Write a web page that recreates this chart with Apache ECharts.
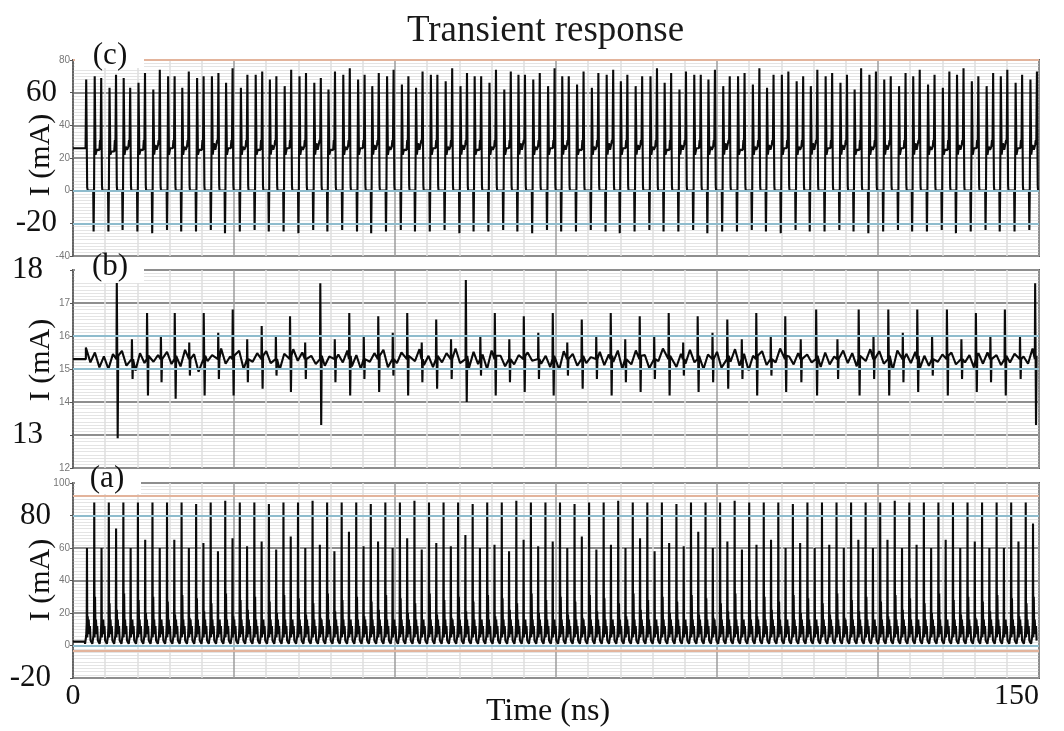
<!DOCTYPE html>
<html>
<head>
<meta charset="utf-8">
<title>Transient response</title>
<script src="https://cdn.jsdelivr.net/npm/echarts@6/dist/echarts.min.js"></script>
<style>
  html, body { margin: 0; padding: 0; background: #fff; }
  #chart { width: 1064px; height: 731px; }
</style>
</head>
<body>
<div id="chart"></div>
<script>
// ---------- panel (c) : switching current, mA ----------
var cLeadT = [0, 1.95, 2.05, 2.2, 2.3];
var cLeadV = [26, 26, 68, 2, 0];
// time of each negative spike (ns)
var cNegT = [3.2, 5.5, 7.7, 10.0, 12.3, 14.6, 16.8, 19.1, 21.4, 23.6,
  25.9, 28.2, 30.4, 32.7, 35.0, 37.3, 39.5, 41.8, 44.1, 46.3,
  48.6, 50.9, 53.1, 55.4, 57.7, 60.0, 62.2, 64.5, 66.8, 69.0,
  71.3, 73.6, 75.8, 78.1, 80.4, 82.7, 84.9, 87.2, 89.5, 91.7,
  94.0, 96.3, 98.5, 100.8, 103.1, 105.4, 107.6, 109.9, 112.2, 114.4,
  116.7, 119.0, 121.2, 123.5, 125.8, 128.1, 130.3, 132.6, 134.9, 137.1,
  139.4, 141.7, 143.9, 146.2, 148.5];
var cNeg = [-25, -25, -24, -25, -26, -24, -25, -25, -24, -26,
  -25, -24, -25, -25, -26, -24, -25, -24, -25, -26,
  -25, -24, -25, -25, -24, -26, -25, -25, -24, -25,
  -26, -24, -25, -25, -24, -25, -26, -25, -24, -25,
  -25, -24, -26, -25, -25, -24, -25, -26, -24, -25,
  -25, -24, -25, -26, -25, -24, -25, -25, -24, -26,
  -25, -24, -25, -25, -24];
var cA = [70, 63, 69, 66, 62, 70, 63, 69, 70, 66,
  63, 71, 68, 64, 70, 66, 62, 71, 68, 64,
  70, 65, 63, 71, 67, 64, 70, 66, 62, 71,
  68, 64, 70, 65, 63, 71, 67, 64, 70, 66,
  62, 71, 68, 64, 70, 65, 63, 71, 67, 64,
  70, 66, 62, 71, 68, 64, 70, 65, 63, 71,
  67, 64, 70, 66, 68];
var cB = [69, 71, 63, 72, 74, 70, 73, 70, 72, 75,
  71, 73, 70, 74, 72, 69, 73, 75, 71, 72,
  74, 70, 73, 71, 75, 72, 70, 74, 73, 71,
  72, 75, 70, 73, 72, 74, 71, 70, 75, 72,
  73, 71, 74, 70, 72, 75, 71, 73, 70, 74,
  72, 71, 75, 73, 70, 72, 74, 71, 73, 75,
  70, 72, 74, 71, 73];
var cPlat = [25, 24, 27, 25, 28, 26, 27, 25, 29, 26,
  27, 25, 28, 26, 27, 29, 25, 27, 26, 28,
  27, 25, 29, 26, 27, 28, 25, 27, 26, 29,
  27, 26, 28, 25, 27, 29, 26, 28, 27, 25,
  28, 26, 27, 29, 25, 27, 28, 26, 27, 29,
  26, 28, 25, 27, 28, 26, 29, 27, 25, 28,
  26, 27, 29, 26, 28];

// ---------- panel (b) : supply current, mA ----------
var bBase = 15.3;
var bBigT = [6.8, 11.5, 15.8, 20.3, 24.8, 29.3, 33.7, 38.4, 42.9, 47.4,
  51.9, 56.4, 61.0, 65.5, 70.0, 74.5, 79.0, 83.5, 88.0, 92.5,
  97.0, 101.6, 106.1, 110.6, 115.4, 122.0, 126.6, 131.1, 135.7, 140.2,
  144.7, 149.4];
var bBigUp = [17.7, 16.7, 16.7, 16.7, 16.8, 16.3, 16.6, 17.6, 16.7, 16.6,
  16.7, 16.5, 17.7, 16.7, 16.6, 16.7, 16.5, 16.7, 16.6, 16.7,
  16.6, 16.5, 16.7, 16.6, 16.8, 16.8, 16.8, 16.8, 16.8, 16.7,
  16.8, 17.6];
var bBigDown = [12.9, 14.2, 14.1, 14.2, 14.2, 14.4, 14.3, 13.3, 14.2, 14.3,
  14.2, 14.4, 14.0, 14.2, 14.3, 14.2, 14.4, 14.2, 14.3, 14.2,
  14.3, 14.4, 14.2, 14.3, 14.2, 14.2, 14.2, 14.3, 14.2, 14.3,
  14.2, 13.3];
var bMidUp = [15.9, 16.0, 15.8, 16.1, 15.9, 16.0, 15.8, 15.9, 16.0, 16.1,
  15.8, 15.9, 16.0, 15.9, 16.1, 15.8, 16.0, 15.9, 16.0, 15.8,
  16.1, 15.9, 16.0, 15.9, 15.9, 16.0, 16.1, 16.0, 15.9, 16.0, 16.0];
var bMidDown = [14.7, 14.6, 14.8, 14.7, 14.6, 14.8, 14.7, 14.6, 14.7, 14.8,
  14.6, 14.7, 14.8, 14.6, 14.7, 14.8, 14.7, 14.6, 14.7, 14.8,
  14.6, 14.7, 14.8, 14.6, 14.7, 14.7, 14.6, 14.8, 14.7, 14.6, 14.7];
// ripple on the supply current, hundredths of mA, one sample per 0.7 ns from 2 ns
var bNoiseStart = 2.0, bNoiseStep = 0.7;
var bNoise = [35, -10, 20, -25, 8, -30, 15, -5, 25, -20, 10, -35, 18, -12, 30, -8, 12, -28, 22, -15,
  5, -22, 28, -10, 15, -38, 20, -6, 12, -25, 32, -14, 8, -20, 25, -30, 10, -8, 18, -26,
  24, -12, 6, -32, 16, -18, 30, -5, 20, -24, 10, -15, 35, -20, 8, -28, 14, -10, 26, -22,
  12, -30, 22, -8, 18, -16, 28, -25, 6, -12, 20, -34, 15, -6, 30, -18, 10, -24, 24, -10,
  18, -20, 32, -12, 8, -26, 22, -15, 14, -30, 26, -8, 10, -22, 34, -16, 12, -28, 20, -5,
  28, -14, 10, -24, 18, -32, 24, -10, 16, -20, 30, -12, 6, -26, 22, -18, 14, -8, 26, -30,
  8, -16, 26, -22, 12, -28, 20, -6, 32, -18, 10, -24, 16, -14, 28, -10, 22, -30, 14, -20,
  22, -26, 12, -8, 30, -20, 16, -34, 10, -14, 24, -18, 20, -10, 32, -24, 8, -16, 18, -28,
  14, -10, 28, -24, 20, -16, 8, -30, 26, -12, 18, -22, 12, -6, 30, -20, 24, -14, 10, -32,
  26, -18, 16, -12, 22, -28, 10, -20, 30, -8, 14, -24, 20, -16, 28, -10, 12, -26, 18, -14,
  20, -30, 12, -18, 26, -10, 16, -24, 8, -14, 32, -22];

// ---------- panel (a) : output current, mA ----------
var aLeadT = [0, 1.85];
var aLeadV = [2.4, 2.4];
var aT = [2.17, 3.30, 4.43, 5.56, 6.69, 7.82, 8.95, 10.08, 11.21, 12.34,
  13.47, 14.60, 15.73, 16.86, 17.99, 19.12, 20.25, 21.38, 22.51, 23.64,
  24.77, 25.90, 27.03, 28.16, 29.29, 30.42, 31.55, 32.68, 33.81, 34.94,
  36.07, 37.20, 38.33, 39.46, 40.59, 41.72, 42.85, 43.98, 45.11, 46.24,
  47.37, 48.50, 49.63, 50.76, 51.89, 53.02, 54.15, 55.28, 56.41, 57.54,
  58.67, 59.80, 60.93, 62.06, 63.19, 64.32, 65.45, 66.58, 67.71, 68.84,
  69.97, 71.10, 72.23, 73.36, 74.49, 75.62, 76.75, 77.88, 79.01, 80.14,
  81.27, 82.40, 83.53, 84.66, 85.79, 86.92, 88.05, 89.18, 90.31, 91.44,
  92.57, 93.70, 94.83, 95.96, 97.09, 98.22, 99.35, 100.48, 101.61, 102.74,
  103.87, 105.00, 106.13, 107.26, 108.39, 109.52, 110.65, 111.78, 112.91, 114.04,
  115.17, 116.30, 117.43, 118.56, 119.69, 120.82, 121.95, 123.08, 124.21, 125.34,
  126.47, 127.60, 128.73, 129.86, 130.99, 132.12, 133.25, 134.38, 135.51, 136.64,
  137.77, 138.90, 140.03, 141.16, 142.29, 143.42, 144.55, 145.68, 146.81, 147.94,
  149.07];
var aPeak = [60, 88, 60, 88, 72, 88, 60, 88, 65, 88,
  60, 88, 65, 88, 60, 87, 63, 88, 58, 89,
  66, 88, 61, 88, 64, 87, 59, 88, 67, 88,
  60, 89, 62, 88, 58, 88, 70, 88, 61, 87,
  64, 88, 60, 88, 66, 89, 59, 88, 63, 88,
  61, 88, 68, 87, 60, 88, 62, 88, 58, 89,
  65, 88, 61, 88, 64, 88, 60, 87, 67, 88,
  59, 88, 62, 89, 60, 88, 66, 88, 58, 88,
  63, 87, 61, 88, 70, 88, 60, 88, 64, 89,
  59, 88, 62, 88, 65, 88, 60, 87, 63, 88,
  60, 88, 62, 88, 60, 88, 65, 88, 60, 88,
  65, 89, 60, 88, 62, 88, 60, 88, 65, 88,
  60, 88, 64, 88, 60, 88, 60, 88, 64, 88,
  75];
var aHump = [18, 30, 16, 26, 22, 32, 14, 28, 20, 30,
  15, 27, 19, 31, 17, 29, 21, 26, 14, 32,
  18, 28, 22, 30, 16, 27, 20, 31, 15, 29,
  19, 26, 17, 32, 21, 28, 14, 30, 18, 27,
  22, 31, 16, 29, 20, 26, 15, 32, 19, 28,
  17, 30, 21, 27, 14, 31, 18, 29, 22, 26,
  16, 32, 20, 28, 15, 30, 19, 27, 17, 31,
  21, 29, 14, 26, 18, 32, 22, 28, 16, 30,
  20, 27, 15, 31, 19, 29, 17, 26, 21, 32,
  14, 28, 18, 30, 22, 27, 16, 31, 20, 29,
  15, 26, 19, 32, 17, 28, 21, 30, 14, 27,
  18, 31, 22, 29, 16, 26, 20, 32, 15, 28,
  19, 30, 17, 27, 21, 31, 14, 29, 18, 26,
  30];

// ---------- build traces ----------
function traceC() {
  var d = [], i, n;
  for (i = 0; i < cLeadT.length; i++) d.push([cLeadT[i], cLeadV[i]]);
  n = Math.min(cNegT.length, cNeg.length, cA.length, cB.length, cPlat.length);
  for (i = 0; i < n; i++) {
    var t = cNegT[i], p = cPlat[i];
    d.push([t - 0.06, 0], [t, cNeg[i]], [t + 0.07, 0], [t + 0.17, cA[i]],
      [t + 0.3, 22], [t + 0.5, p], [t + 0.7, 25], [t + 0.9, p], [t + 1.0, 31],
      [t + 1.08, p], [t + 1.18, cB[i]], [t + 1.3, 3], [t + 1.36, 0]);
  }
  return d;
}

function traceB() {
  var d = [[0, bBase], [bNoiseStart, bBase]], spikes = [], i;
  for (i = 0; i < bBigT.length; i++) {
    var t = bBigT[i];
    spikes.push(t);
    d.push([t - 0.05, bBase], [t, bBigUp[i]], [t + 0.08, 15.2], [t + 0.14, bBigDown[i]], [t + 0.22, 15.4]);
    if (i < bBigT.length - 1 && i < bMidUp.length) {
      var m = (t + bBigT[i + 1]) / 2;
      spikes.push(m);
      d.push([m - 0.04, bBase], [m, bMidUp[i]], [m + 0.1, bMidDown[i]], [m + 0.18, bBase]);
    }
  }
  for (i = 0; i < bNoise.length; i++) {
    var tn = bNoiseStart + i * bNoiseStep;
    var near = spikes.some(function (s) { return Math.abs(s - tn) < 0.3; });
    if (!near && tn <= 150) d.push([tn, bBase + bNoise[i] / 100]);
  }
  d.sort(function (p, q) { return p[0] - q[0]; });
  return d;
}

function traceA() {
  var d = [], i, n;
  for (i = 0; i < aLeadT.length; i++) d.push([aLeadT[i], aLeadV[i]]);
  n = Math.min(aT.length, aPeak.length, aHump.length);
  for (i = 0; i < n; i++) {
    var t = aT[i];
    d.push([t - 0.3, 1], [t - 0.12, 6], [t - 0.04, 14], [t, aPeak[i]], [t + 0.05, 5],
      [t + 0.12, aHump[i]], [t + 0.19, 9], [t + 0.27, 16], [t + 0.36, 7],
      [t + 0.46, 12], [t + 0.56, 3]);
  }
  return d.filter(function (p) { return p[0] <= 150; });
}

// ---------- layout ----------
var serif = 'Liberation Serif';
var grids = [
  { left: 73, right: 25, top: 60, height: 196 },   // (c)
  { left: 73, right: 25, top: 270, height: 198 },  // (b)
  { left: 73, right: 25, top: 483, height: 195 }   // (a)
];
var yRanges = [
  { min: -40, max: 80, interval: 20, big: [60, -20] },
  { min: 12, max: 18, interval: 1, big: [18, 13], bigMargin: 30 },
  { min: -20, max: 100, interval: 20, big: [80, -20], bigMargin: 22 }
];

var xAxes = grids.map(function (g, i) {
  var bottom = i === 2;
  return {
    type: 'value', gridIndex: i, min: 0, max: 150, interval: 25,
    axisLine: { show: false },
    axisTick: { show: false },
    minorTick: { show: false, splitNumber: 5 },
    splitLine: { show: true, lineStyle: { color: '#9c9c9c', width: 1.5 } },
    minorSplitLine: { show: true, lineStyle: { color: '#dedede', width: 1.5 } },
    axisLabel: {
      show: bottom, margin: 3, fontFamily: serif, fontSize: 30, color: '#111',
      alignMaxLabel: 'right',
      formatter: function (v) { return (v === 0 || v === 150) ? String(v) : ''; }
    }
  };
});

var yAxes = [];
yRanges.forEach(function (r, i) {
  yAxes.push({
    type: 'value', gridIndex: i, position: 'left', min: r.min, max: r.max, interval: r.interval,
    axisLine: { show: true, lineStyle: { color: '#555', type: 'dotted', width: 1.5 } },
    axisTick: { show: true, length: 3, lineStyle: { color: '#555' } },
    minorTick: { show: false, splitNumber: 10 },
    splitLine: { show: true, lineStyle: { color: '#8e8e8e', width: 2 } },
    minorSplitLine: { show: true, lineStyle: { color: '#e4e4e4', width: 1 } },
    axisLabel: {
      margin: 3, fontSize: 10, color: '#777', fontFamily: 'Liberation Sans',
      formatter: function (v) { return r.big.indexOf(v) >= 0 ? '' : String(v); }
    }
  });
  yAxes.push({
    type: 'value', gridIndex: i, position: 'left', offset: 0, min: r.min, max: r.max, interval: r.interval,
    axisLine: { show: false }, axisTick: { show: false }, splitLine: { show: false },
    axisLabel: {
      margin: r.bigMargin || 16, fontSize: 31, color: '#111', fontFamily: serif,
      formatter: function (v) { return r.big.indexOf(v) >= 0 ? String(v) : ''; }
    }
  });
});

function refLines(gi, lines) {
  return {
    type: 'line', xAxisIndex: gi, yAxisIndex: gi * 2, data: [], silent: true, z: 1,
    markLine: {
      silent: true, symbol: ['none', 'none'], label: { show: false }, animation: false,
      data: lines.map(function (l) {
        return { yAxis: l[0], lineStyle: { color: l[1], width: 2, type: 'solid' } };
      })
    }
  };
}

function trace(gi, data) {
  return {
    type: 'line', xAxisIndex: gi, yAxisIndex: gi * 2, data: data, z: 3,
    showSymbol: false, symbol: 'none', sampling: false, animation: false,
    lineStyle: { color: '#0b0b0b', width: 2.1 }
  };
}

var blue = '#8fbccd', orange = '#e3b49c';

function labelBox(x, y, w, h, text, cx, cy) {
  return [
    { type: 'rect', z: 50, shape: { x: x, y: y, width: w, height: h }, style: { fill: '#fff' } },
    { type: 'text', z: 51, x: cx, y: cy,
      style: { text: text, fontFamily: serif, fontSize: 31, fill: '#111', align: 'center', verticalAlign: 'middle' } }
  ];
}

function yName(cy) {
  return { type: 'text', z: 51, x: 41, y: cy, rotation: Math.PI / 2,
    style: { text: 'I (mA)', fontFamily: serif, fontSize: 30, fill: '#111', align: 'center', verticalAlign: 'middle' } };
}

var chart = echarts.init(document.getElementById('chart'), null, { renderer: 'canvas' });
chart.setOption({
  animation: false,
  backgroundColor: '#fff',
  title: {
    text: 'Transient response', left: 402, top: 8,
    textStyle: { fontFamily: serif, fontSize: 37, fontWeight: 'normal', color: '#1a1a1a' }
  },
  grid: grids.map(function (g) {
    return Object.assign({ show: true, borderColor: '#5f5f5f', borderWidth: 2, backgroundColor: 'transparent' }, g);
  }),
  xAxis: xAxes,
  yAxis: yAxes,
  series: [
    refLines(0, [[80, orange], [0, blue], [-20, blue]]),
    refLines(1, [[16, blue], [15, blue]]),
    refLines(2, [[92, orange], [80, blue], [0, blue], [-3, orange]]),
    trace(0, traceC()),
    trace(1, traceB()),
    trace(2, traceA())
  ],
  graphic: [].concat(
    labelBox(75, 44, 69, 24, '(c)', 110, 56),
    labelBox(75, 258, 69, 25, '(b)', 110, 267),
    labelBox(75, 470, 66, 24, '(a)', 107, 479),
    [yName(155), yName(360), yName(580),
     { type: 'text', z: 51, x: 548, y: 712,
       style: { text: 'Time (ns)', fontFamily: serif, fontSize: 32, fill: '#111', align: 'center', verticalAlign: 'middle' } }]
  )
});
</script>
</body>
</html>
